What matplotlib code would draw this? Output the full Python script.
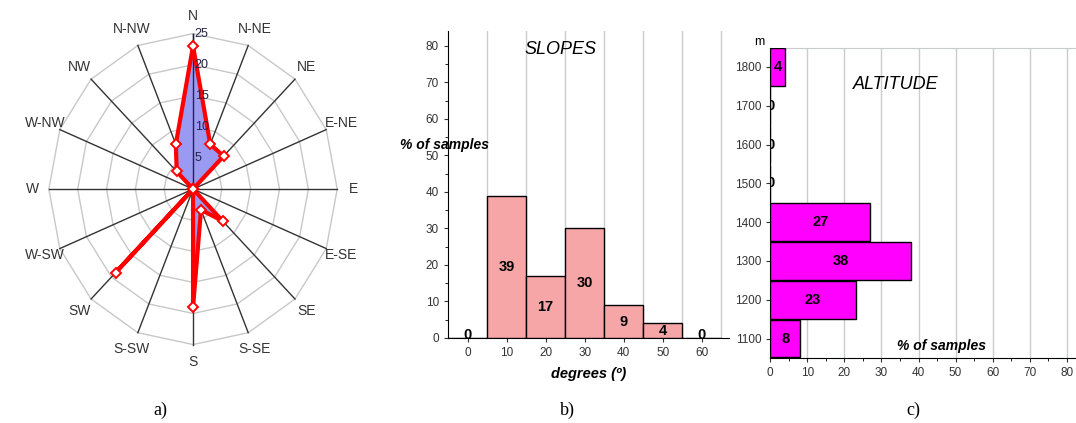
import matplotlib.pyplot as plt
import numpy as np

# aspect (orientation) of the samples, % per direction, clockwise from N
directions = ['N', 'N-NE', 'NE', 'E-NE', 'E', 'E-SE', 'SE', 'S-SE',
              'S', 'S-SW', 'SW', 'W-SW', 'W', 'W-NW', 'NW', 'N-NW']
aspect_pct = [23, 7.8, 7.5, 0, 0, 0, 7.3, 3.6, 19, 0, 19, 0, 0, 0, 4, 7.8]
radial_ticks = [5, 10, 15, 20, 25]

# slopes histogram
slope_deg = [0, 10, 20, 30, 40, 50, 60]
slope_pct = [0, 39, 17, 30, 9, 4, 0]

# altitude histogram
alt_m = [1100, 1200, 1300, 1400, 1500, 1600, 1700, 1800]
alt_pct = [8, 23, 38, 27, 0, 0, 0, 4]

plt.rcParams['font.family'] = ['Liberation Sans', 'DejaVu Sans']

fig = plt.figure(figsize=(10.76, 4.23), dpi=100)

# ---------------- a) radar of orientations ----------------
ax1 = fig.add_axes([0.0186, 0.112, 0.3216, 0.882])
ax1.set_xlim(-30, 30)
ax1.set_ylim(-30, 30)
ax1.axis('off')

ang = np.deg2rad(np.arange(len(directions)) * 360 / len(directions))
ang_closed = np.append(ang, ang[0])

for r in radial_ticks:
    ax1.plot(r * np.sin(ang_closed), r * np.cos(ang_closed), color='#c8c8c8', lw=1, zorder=1)
for a in ang:
    ax1.plot([0, 25 * np.sin(a)], [0, 25 * np.cos(a)], color='#333333', lw=1, zorder=2)

vals = np.append(aspect_pct, aspect_pct[0])
xs = vals * np.sin(ang_closed)
ys = vals * np.cos(ang_closed)
ax1.fill(xs, ys, color='#9a9af2', zorder=3)
ax1.plot([0, 0], [0, 25], color='#22224a', lw=1, zorder=4)
ax1.plot(xs, ys, color='red', lw=3, zorder=5, solid_joinstyle='miter')
ax1.plot(xs[:-1], ys[:-1], 'D', ms=5.5, mfc='white', mec='red', mew=1.4, zorder=6)

for r in radial_ticks:
    ax1.text(0.3, r, str(r), fontsize=9, color='#22224a', ha='left', va='center', zorder=7)
for a, name in zip(ang, directions):
    ax1.text(27.8 * np.sin(a), 27.8 * np.cos(a), name, fontsize=10, color='#333333',
             ha='center', va='center')

# ---------------- b) slopes ----------------
ax2 = fig.add_axes([0.4164, 0.201, 0.2612, 0.725])
ax2.bar(slope_deg, slope_pct, width=10, color='#f6a6a6', edgecolor='black', lw=1, zorder=3)
for x, v in zip(slope_deg, slope_pct):
    ax2.text(x, max(v / 2, 0.9), str(v), ha='center', va='center', fontsize=10.5,
             fontweight='bold', zorder=4)
ax2.set_xlim(-5, 67)
ax2.set_ylim(0, 84)
ax2.set_xticks(slope_deg)
ax2.set_yticks(range(0, 81, 10))
ax2.set_yticks(range(5, 81, 10), minor=True)
for g in range(5, 66, 10):
    ax2.axvline(g, color='#c8cccc', lw=1, zorder=1)
for s in ['top', 'right']:
    ax2.spines[s].set_visible(False)
ax2.tick_params(labelsize=8.5, colors='#333333', length=3)
ax2.tick_params(which='minor', length=2)
ax2.text(0.4, 0.94, 'SLOPES', transform=ax2.transAxes, fontsize=13, style='italic',
         ha='center', va='center')
ax2.text(-0.17, 0.63, '% of samples', transform=ax2.transAxes, fontsize=10,
         style='italic', fontweight='bold', ha='left', va='center')
ax2.set_xlabel('degrees (º)', fontsize=10.5, style='italic', fontweight='bold', labelpad=6)

# ---------------- c) altitude ----------------
ax3 = fig.add_axes([0.7159, 0.1537, 0.2841, 0.7338])
ax3.barh(alt_m, alt_pct, height=97, color='#ff00ff', edgecolor='black', lw=1, zorder=3)
for y, v in zip(alt_m, alt_pct):
    ax3.text(v / 2, y, str(v), ha='center', va='center', fontsize=10.5,
             fontweight='bold', zorder=4, clip_on=True)
ax3.set_xlim(0, 82.5)
ax3.set_ylim(1050, 1850)
ax3.set_xticks(range(0, 81, 10))
ax3.set_xticks(range(5, 81, 10), minor=True)
ax3.set_yticks(alt_m)
for g in range(10, 81, 10):
    ax3.axvline(g, color='#c8cccc', lw=1, zorder=1)
ax3.spines['right'].set_visible(False)
ax3.spines['top'].set_color('#c8cccc')
ax3.tick_params(labelsize=8.5, colors='#333333', length=3)
ax3.tick_params(which='minor', length=2)
ax3.text(-0.035, 1.0, 'm', transform=ax3.transAxes, fontsize=9, ha='center', va='bottom')
ax3.text(0.41, 0.88, 'ALTITUDE', transform=ax3.transAxes, fontsize=13, style='italic',
         ha='center', va='center')
ax3.text(0.56, 0.04, '% of samples', transform=ax3.transAxes, fontsize=10,
         style='italic', fontweight='bold', ha='center', va='center')

# captions
for x, lab in [(160, 'a)'), (567, 'b)'), (913, 'c)')]:
    fig.text(x / 1076, 1 - 410 / 423, lab, fontsize=13, family='Liberation Serif',
             ha='center', va='center')

plt.savefig('out.png', dpi=100)
